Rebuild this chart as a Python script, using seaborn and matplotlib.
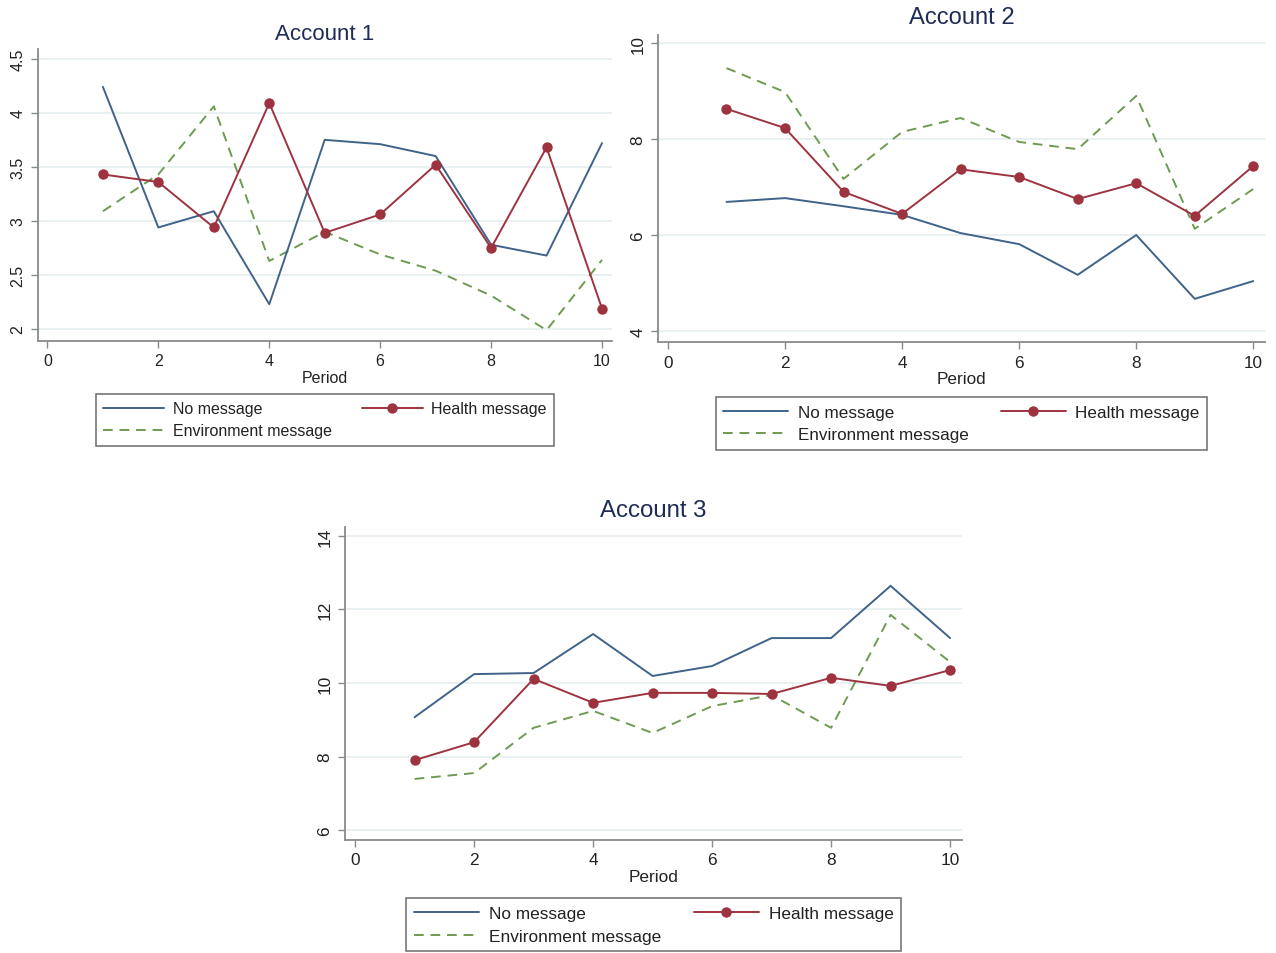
import numpy as np
import pandas as pd
import matplotlib
matplotlib.use("Agg")
import matplotlib.pyplot as plt
import seaborn as sns
from matplotlib.lines import Line2D

periods = list(range(1, 11))

# Account 1
acc1_none = [4.24, 2.94, 3.09, 2.23, 3.75, 3.71, 3.60, 2.78, 2.68, 3.72]
acc1_health = [3.43, 3.36, 2.94, 4.09, 2.89, 3.06, 3.52, 2.75, 3.68, 2.19]
acc1_env = [3.09, 3.43, 4.06, 2.63, 2.90, 2.69, 2.54, 2.31, 1.99, 2.64]

# Account 2
acc2_none = [6.69, 6.77, 6.60, 6.42, 6.04, 5.81, 5.17, 6.00, 4.67, 5.04]
acc2_health = [8.63, 8.23, 6.90, 6.44, 7.37, 7.21, 6.75, 7.08, 6.40, 7.44]
acc2_env = [9.48, 8.98, 7.17, 8.15, 8.44, 7.94, 7.79, 8.90, 6.13, 6.96]

# Account 3
acc3_none = [9.07, 10.24, 10.27, 11.33, 10.19, 10.46, 11.22, 11.22, 12.64, 11.22]
acc3_health = [7.90, 8.39, 10.11, 9.46, 9.73, 9.73, 9.70, 10.14, 9.92, 10.35]
acc3_env = [7.39, 7.55, 8.78, 9.24, 8.64, 9.37, 9.67, 8.78, 11.85, 10.57]

titles = ["Account 1", "Account 2", "Account 3"]
yticks = [[2, 2.5, 3, 3.5, 4, 4.5], [4, 6, 8, 10], [6, 8, 10, 12, 14]]
ytick_labels = [["2", "2.5", "3", "3.5", "4", "4.5"], ["4", "6", "8", "10"],
                ["6", "8", "10", "12", "14"]]
xticks = [0, 2, 4, 6, 8, 10]
series_names = ["No message", "Health message", "Environment message"]

sns.set_theme(style="white")
plt.rcParams["font.family"] = ["Liberation Sans", "DejaVu Sans"]

C_NONE = "#3f6389"
C_HEALTH = "#9e3340"
C_ENV = "#6f9a52"
TITLE_C = "#1e2c56"
SPINE_C = "#8a8a8a"
GRID_C = "#e4eef0"

W, H = 1276, 954
fig = plt.figure(figsize=(W / 100, H / 100), dpi=100)
fig.patch.set_facecolor("white")


def px_axes(left, top, right, bottom):
    return fig.add_axes([left / W, 1 - bottom / H, (right - left) / W, (bottom - top) / H])


panels = [
    dict(box=(38, 50, 612, 342), xlim=(-0.17, 10.18), ylim=(1.89, 4.59),
         data=(acc1_none, acc1_health, acc1_env), leg_top=395, title_y=35, k=1.0),
    dict(box=(658, 36, 1265, 343), xlim=(-0.17, 10.2), ylim=(3.77, 10.17),
         data=(acc2_none, acc2_health, acc2_env), leg_top=398, title_y=18, k=1.07),
    dict(box=(345, 528, 962, 841), xlim=(-0.17, 10.2), ylim=(5.73, 14.24),
         data=(acc3_none, acc3_health, acc3_env), leg_top=899, title_y=511, k=1.08),
]

for i, p in enumerate(panels):
    k = p["k"]
    ax = px_axes(*p["box"])
    none_v, health_v, env_v = p["data"]
    df = pd.DataFrame({"Period": periods * 3,
                       "value": none_v + health_v + env_v,
                       "series": sum([[s] * 10 for s in series_names], [])})

    for ytk in yticks[i]:
        ax.axhline(ytk, color=GRID_C, lw=1.2, zorder=0)

    sns.lineplot(data=df[df.series == "Environment message"], x="Period", y="value",
                 color=C_ENV, lw=1.4, ax=ax, dashes=False, linestyle=(0, (5, 3.5)))
    sns.lineplot(data=df[df.series == "No message"], x="Period", y="value",
                 color=C_NONE, lw=1.4, ax=ax)
    sns.lineplot(data=df[df.series == "Health message"], x="Period", y="value",
                 color=C_HEALTH, lw=1.4, marker="o", markersize=7.5,
                 markeredgewidth=0, ax=ax)

    ax.set_xlim(*p["xlim"])
    ax.set_ylim(*p["ylim"])
    ax.set_xticks(xticks)
    ax.set_xticklabels([str(x) for x in xticks], fontsize=11.5 * k, color="#222222")
    ax.set_yticks(yticks[i])
    ax.set_yticklabels(ytick_labels[i], fontsize=11.5 * k, color="#222222",
                       rotation=90, va="center")
    ax.set_ylabel("")
    ax.set_xlabel("Period", fontsize=11.5 * k, color="#222222", labelpad=1)
    ax.tick_params(axis="both", direction="out", length=5, width=1,
                   color=SPINE_C, pad=4, left=True, bottom=True)
    for s in ["top", "right"]:
        ax.spines[s].set_visible(False)
    for s in ["left", "bottom"]:
        ax.spines[s].set_color(SPINE_C)
        ax.spines[s].set_linewidth(1.3)

    cx = (p["box"][0] + p["box"][2]) / 2
    fig.text(cx / W, 1 - p["title_y"] / H, titles[i], ha="center", va="center",
             fontsize=16 * k, color=TITLE_C)

    handles = [
        Line2D([], [], color=C_NONE, lw=1.4),
        Line2D([], [], color=C_ENV, lw=1.4, linestyle=(0, (5, 3.5))),
        Line2D([], [], color=C_HEALTH, lw=1.4, marker="o", markersize=7.5,
               markeredgewidth=0),
    ]
    labels = ["No message", "Environment message", "Health message"]
    leg = fig.legend(handles, labels, loc="upper center",
                     bbox_to_anchor=(cx / W, 1 - p["leg_top"] / H),
                     ncol=2, fontsize=11.5 * k, frameon=True, fancybox=False,
                     handlelength=3.8, columnspacing=1.9, handletextpad=0.55,
                     borderpad=0.45, labelspacing=0.45, borderaxespad=0)
    leg.get_frame().set_edgecolor("#555555")
    leg.get_frame().set_linewidth(1.2)
    for t in leg.get_texts():
        t.set_color("#222222")

fig.savefig("out.png", dpi=100, facecolor="white")
